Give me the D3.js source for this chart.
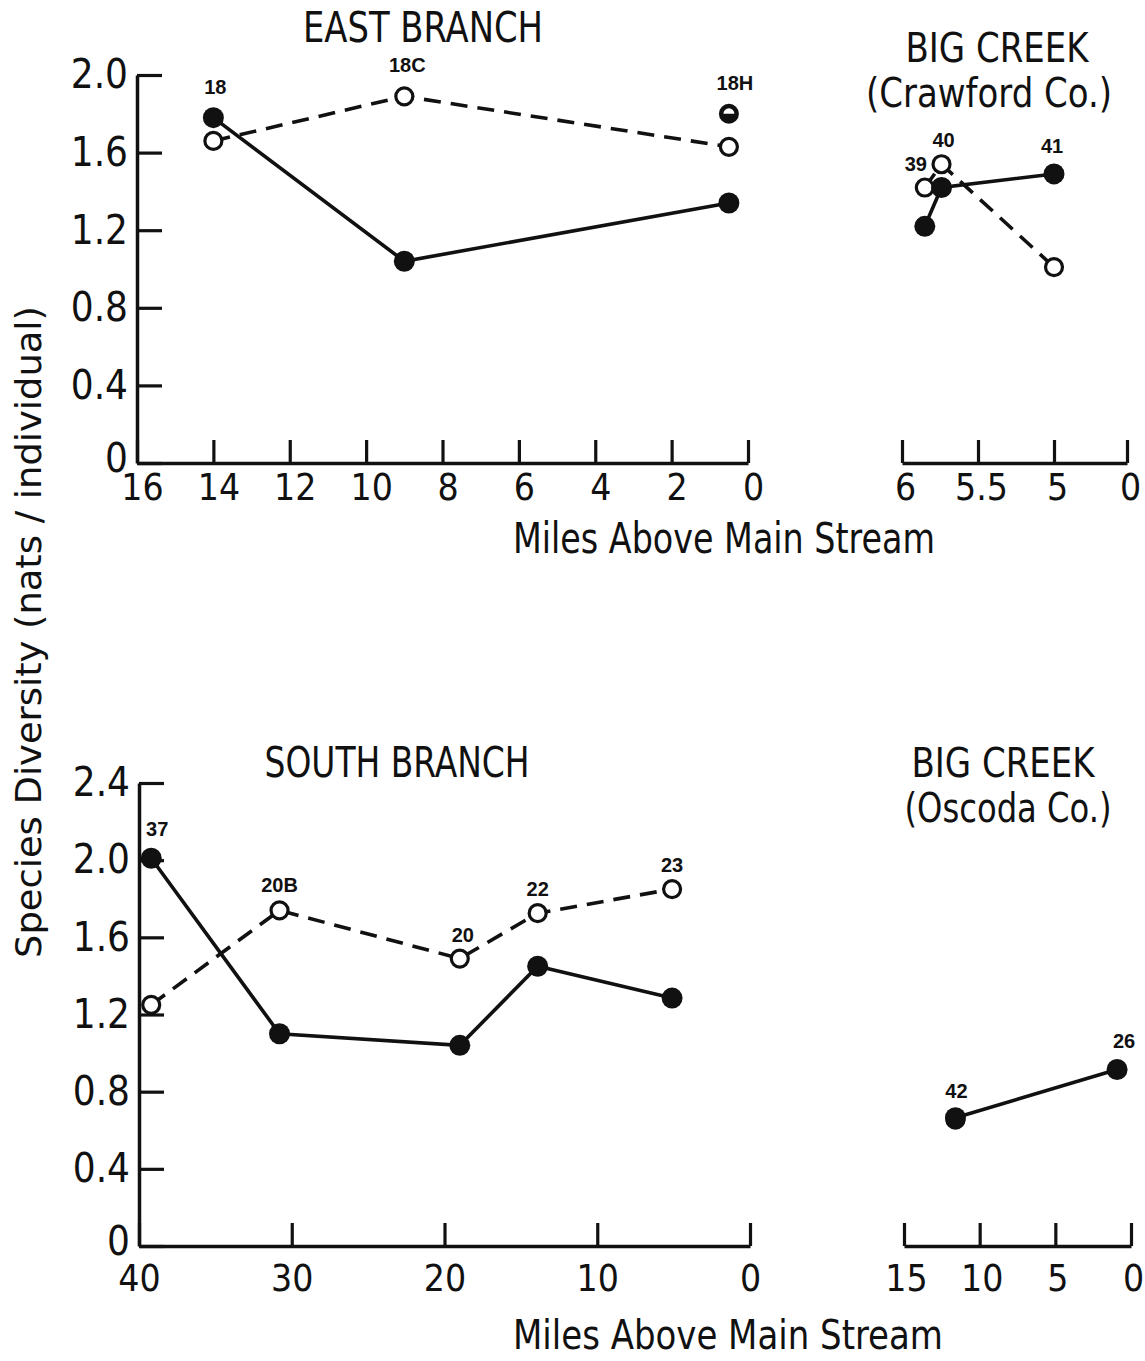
<!DOCTYPE html>
<html>
<head>
<meta charset="utf-8">
<script src="https://cdn.jsdelivr.net/npm/d3@7"></script>
<style>
  html, body { margin: 0; padding: 0; background: #fff; }
  svg { display: block; }
  .narrow { font-family: "Liberation Sans Narrow", "Arial Narrow", "DejaVu Sans Condensed", sans-serif; }
  .ptlab { font-family: "Liberation Sans", Arial, sans-serif; font-weight: bold; font-size: 20px; fill: #111; }
</style>
</head>
<body>
<script>
// ---------------- DATA ----------------
// East Branch
const eastMiles   = [14, 9, 0.5];
const eastFilled  = [1.78, 1.04, 1.34];
const eastOpen    = [1.66, 1.89, 1.63];
const eastHalfMile = [0.5];
const eastHalf    = [1.80];
const eastLabels  = [ {t: "18", s: "filled", i: 0}, {t: "18C", s: "open", i: 1}, {t: "18H", s: "half", i: 0} ];
const eastXTicks  = [16, 14, 12, 10, 8, 6, 4, 2, 0];
const topYTicks   = [0, 0.4, 0.8, 1.2, 1.6, 2.0];

// Big Creek (Crawford Co.)
const crawMiles   = [5.85, 5.74, 5.0];
const crawFilled  = [1.22, 1.42, 1.49];
const crawOpen    = [1.42, 1.54, 1.01];
const crawLabels  = [ {t: "39", s: "open", i: 0}, {t: "40", s: "open", i: 1}, {t: "41", s: "filled", i: 2} ];
const crawXTicks  = [6, 5.5, 5, 0];

// South Branch
const southMiles  = [39.2, 30.8, 19.0, 13.9, 5.1];
const southFilled = [2.01, 1.10, 1.04, 1.45, 1.285];
const southOpen   = [1.25, 1.74, 1.49, 1.725, 1.85];
const southLabels = [ {t: "37", s: "filled", i: 0}, {t: "20B", s: "open", i: 1}, {t: "20", s: "open", i: 2}, {t: "22", s: "open", i: 3}, {t: "23", s: "open", i: 4} ];
const southXTicks = [40, 30, 20, 10, 0];
const botYTicks   = [0, 0.4, 0.8, 1.2, 1.6, 2.0, 2.4];

// Big Creek (Oscoda Co.)
const oscMiles    = [11.6, 0.92];
const oscFilled   = [0.665, 0.915];
const oscOpenMiles = [11.6];
const oscOpen     = [0.655];
const oscLabels   = [ {t: "42", s: "filled", i: 0}, {t: "26", s: "filled", i: 1} ];
const oscXTicks   = [15, 10, 5, 0];

const yTitle = "Species Diversity (nats / individual)";
const xTitle = "Miles Above Main Stream";

// ---------------- DRAW ----------------
const W = 1145, H = 1361;
const INK = "#111";
const svg = d3.select("body").append("svg").attr("width", W).attr("height", H)
  .style("background", "#fff");

const zip = (ms, vs) => ms.map((m, i) => ({m, v: vs[i]}));

function styleAxis(g, fs) {
  g.select(".domain").attr("stroke", INK).attr("stroke-width", 3.5);
  g.selectAll(".tick line").attr("stroke", INK).attr("stroke-width", 3.2);
  g.selectAll(".tick text").attr("class", "narrow").attr("fill", INK).style("font-size", fs + "px");
}

function panel(cfg) {
  const {x, y, xTicks, yTicks, xPad, xFmt} = cfg;
  const g = svg.append("g");
  // x axis with ticks pointing up
  const gx = g.append("g").attr("transform", `translate(0,${y.range()[0]})`)
    .call(d3.axisBottom(x).tickValues(xTicks).tickSize(-23).tickSizeOuter(0)
      .tickPadding(xPad).tickFormat(xFmt || (d => d)));
  styleAxis(gx, 37);
  gx.selectAll(".tick text").attr("dx", cfg.xdx || 0);
  if (yTicks) {
    const gy = g.append("g").attr("transform", `translate(${x.range()[0]},0)`)
      .call(d3.axisLeft(y).tickValues(yTicks).tickSize(-25).tickSizeOuter(0).tickPadding(9)
        .tickFormat(d => d === 0 ? "0" : d3.format(".1f")(d)));
    styleAxis(gy, 40);
    gy.selectAll(".tick text").filter(d => d === 0).attr("dy", "0.2em");
  }
  const line = d3.line().x(d => x(d.m)).y(d => y(d.v));
  // lines
  if (cfg.open && cfg.open.length > 1) {
    g.append("path").datum(cfg.open).attr("d", line).attr("fill", "none")
      .attr("stroke", INK).attr("stroke-width", 3.6).attr("stroke-dasharray", "17,10");
  }
  if (cfg.filled && cfg.filled.length > 1) {
    g.append("path").datum(cfg.filled).attr("d", line).attr("fill", "none")
      .attr("stroke", INK).attr("stroke-width", 3.6);
  }
  // open markers
  g.selectAll(null).data(cfg.open || []).join("circle")
    .attr("cx", d => x(d.m)).attr("cy", d => y(d.v)).attr("r", 8.5)
    .attr("fill", "#fff").attr("stroke", INK).attr("stroke-width", 3.2);
  // filled markers
  g.selectAll(null).data(cfg.filled || []).join("circle")
    .attr("cx", d => x(d.m)).attr("cy", d => y(d.v)).attr("r", 10.5)
    .attr("fill", INK);
  // half-filled markers
  (cfg.half || []).forEach(d => {
    const cx = x(d.m), cy = y(d.v);
    g.append("circle").attr("cx", cx).attr("cy", cy).attr("r", 10).attr("fill", INK);
    g.append("path")
      .attr("d", d3.arc()({innerRadius: 0, outerRadius: 5.5, startAngle: -Math.PI / 2, endAngle: Math.PI / 2}))
      .attr("transform", `translate(${cx},${cy})`).attr("fill", "#fff");
  });
  // point labels
  const series = {filled: cfg.filled, open: cfg.open, half: cfg.half};
  (cfg.labels || []).forEach(L => {
    const p = series[L.s][L.i];
    const off = (cfg.labOff && cfg.labOff[L.t]) || [0, -23];
    g.append("text").attr("class", "ptlab").attr("text-anchor", "middle")
      .attr("x", x(p.m) + off[0]).attr("y", y(p.v) + off[1]).text(L.t);
  });
  return g;
}

function title(txt, cx, base, fs, len) {
  svg.append("text").attr("class", "narrow").attr("x", cx).attr("y", base)
    .attr("text-anchor", "middle").attr("fill", INK).style("font-size", fs + "px")
    .attr("textLength", len).attr("lengthAdjust", "spacingAndGlyphs").text(txt);
}

// Scales
const yTop = d3.scaleLinear().domain([0, 2.0]).range([463, 75]);
const yBot = d3.scaleLinear().domain([0, 2.4]).range([1246, 783]);

panel({
  x: d3.scaleLinear().domain([16, 0]).range([137, 748]), y: yTop,
  xTicks: eastXTicks, yTicks: topYTicks, xPad: 11, xdx: 5,
  filled: zip(eastMiles, eastFilled), open: zip(eastMiles, eastOpen),
  half: zip(eastHalfMile, eastHalf), labels: eastLabels,
  labOff: {"18": [2, -24], "18C": [3, -24], "18H": [6, -24]}
});

panel({
  x: d3.scaleLinear().domain([6, 5, 0]).range([902, 1054, 1127]), y: yTop,
  xTicks: crawXTicks, xPad: 11, xdx: 3,
  filled: zip(crawMiles, crawFilled), open: zip(crawMiles, crawOpen),
  labels: crawLabels,
  labOff: {"39": [-9, -17], "40": [2, -17], "41": [-2, -21]}
});

panel({
  x: d3.scaleLinear().domain([40, 0]).range([139, 750]), y: yBot,
  xTicks: southXTicks, yTicks: botYTicks, xPad: 19, xdx: 0,
  filled: zip(southMiles, southFilled), open: zip(southMiles, southOpen),
  labels: southLabels,
  labOff: {"37": [6, -22], "20B": [0, -18], "20": [3, -17], "22": [0, -17], "23": [0, -17]}
});

panel({
  x: d3.scaleLinear().domain([15, 0]).range([904, 1131]), y: yBot,
  xTicks: oscXTicks, xPad: 19, xdx: 2,
  filled: zip(oscMiles, oscFilled), open: zip(oscOpenMiles, oscOpen),
  labels: oscLabels,
  labOff: {"42": [1, -20], "26": [7, -21]}
});

// Titles
title("EAST BRANCH", 423, 42, 42, 240);
title("BIG CREEK", 997, 62, 40, 183);
title("(Crawford Co.)", 989, 107, 40, 246);
title("SOUTH BRANCH", 397, 777, 42, 265);
title("BIG CREEK", 1003, 777, 40, 183);
title("(Oscoda Co.)", 1008, 822, 40, 207);
title(xTitle, 724, 553, 42, 422);
title(xTitle, 728, 1349, 40, 430);

// Y axis title
svg.append("text").attr("class", "narrow")
  .attr("transform", "translate(41,632) rotate(-90)")
  .attr("text-anchor", "middle").attr("fill", INK).style("font-size", "36px")
  .attr("textLength", 652).attr("lengthAdjust", "spacingAndGlyphs").text(yTitle);
</script>
</body>
</html>
